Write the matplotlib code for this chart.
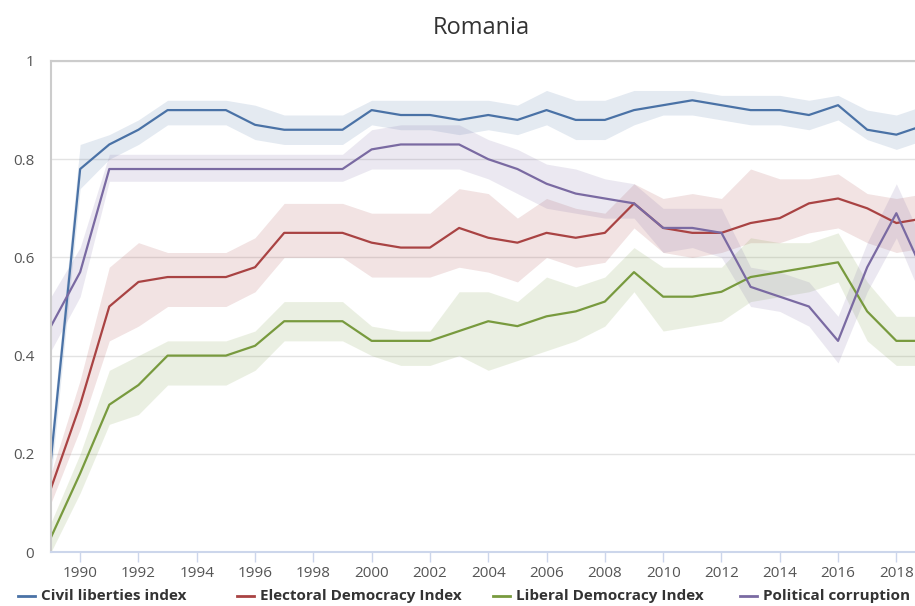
import numpy as np
import matplotlib.pyplot as plt
from matplotlib.lines import Line2D

years = list(range(1989, 2020))

# Civil liberties index
civil = [0.19, 0.78, 0.83, 0.86, 0.90, 0.90, 0.90, 0.87, 0.86, 0.86, 0.86,
         0.90, 0.89, 0.89, 0.88, 0.89, 0.88, 0.90, 0.88, 0.88, 0.90, 0.91,
         0.92, 0.91, 0.90, 0.90, 0.89, 0.91, 0.86, 0.85, 0.87]
civil_hi = [0.23, 0.83, 0.85, 0.88, 0.92, 0.92, 0.92, 0.91, 0.89, 0.89, 0.89,
            0.92, 0.92, 0.92, 0.92, 0.92, 0.91, 0.94, 0.92, 0.92, 0.94, 0.94,
            0.94, 0.93, 0.93, 0.93, 0.92, 0.93, 0.90, 0.89, 0.91]
civil_lo = [0.15, 0.74, 0.80, 0.83, 0.87, 0.87, 0.87, 0.84, 0.83, 0.83, 0.83,
            0.87, 0.86, 0.86, 0.85, 0.86, 0.85, 0.87, 0.84, 0.84, 0.87, 0.89,
            0.89, 0.88, 0.87, 0.87, 0.86, 0.88, 0.84, 0.82, 0.84]

# Electoral Democracy Index
electoral = [0.13, 0.30, 0.50, 0.55, 0.56, 0.56, 0.56, 0.58, 0.65, 0.65, 0.65,
             0.63, 0.62, 0.62, 0.66, 0.64, 0.63, 0.65, 0.64, 0.65, 0.71, 0.66,
             0.65, 0.65, 0.67, 0.68, 0.71, 0.72, 0.70, 0.67, 0.68]
electoral_hi = [0.16, 0.35, 0.58, 0.63, 0.61, 0.61, 0.61, 0.64, 0.71, 0.71, 0.71,
                0.69, 0.69, 0.69, 0.74, 0.73, 0.68, 0.72, 0.70, 0.69, 0.75, 0.72,
                0.73, 0.72, 0.78, 0.76, 0.76, 0.77, 0.73, 0.72, 0.73]
electoral_lo = [0.10, 0.25, 0.43, 0.46, 0.50, 0.50, 0.50, 0.53, 0.60, 0.60, 0.60,
                0.56, 0.56, 0.56, 0.58, 0.57, 0.55, 0.60, 0.58, 0.59, 0.66, 0.61,
                0.60, 0.61, 0.63, 0.63, 0.65, 0.66, 0.63, 0.61, 0.62]

# Liberal Democracy Index
liberal = [0.03, 0.16, 0.30, 0.34, 0.40, 0.40, 0.40, 0.42, 0.47, 0.47, 0.47,
           0.43, 0.43, 0.43, 0.45, 0.47, 0.46, 0.48, 0.49, 0.51, 0.57, 0.52,
           0.52, 0.53, 0.56, 0.57, 0.58, 0.59, 0.49, 0.43, 0.43]
liberal_hi = [0.06, 0.20, 0.37, 0.40, 0.43, 0.43, 0.43, 0.45, 0.51, 0.51, 0.51,
              0.46, 0.45, 0.45, 0.53, 0.53, 0.51, 0.56, 0.54, 0.56, 0.62, 0.58,
              0.58, 0.58, 0.64, 0.63, 0.63, 0.65, 0.55, 0.48, 0.48]
liberal_lo = [0.00, 0.12, 0.26, 0.28, 0.34, 0.34, 0.34, 0.37, 0.43, 0.43, 0.43,
              0.40, 0.38, 0.38, 0.40, 0.37, 0.39, 0.41, 0.43, 0.46, 0.53, 0.45,
              0.46, 0.47, 0.51, 0.52, 0.53, 0.55, 0.43, 0.38, 0.38]

# Political corruption
corruption = [0.46, 0.57, 0.78, 0.78, 0.78, 0.78, 0.78, 0.78, 0.78, 0.78, 0.78,
              0.82, 0.83, 0.83, 0.83, 0.80, 0.78, 0.75, 0.73, 0.72, 0.71, 0.66,
              0.66, 0.65, 0.54, 0.52, 0.50, 0.43, 0.58, 0.69, 0.56]
corruption_hi = [0.52, 0.62, 0.81, 0.81, 0.81, 0.81, 0.81, 0.81, 0.81, 0.81, 0.81,
                 0.86, 0.87, 0.87, 0.87, 0.84, 0.82, 0.79, 0.78, 0.76, 0.75, 0.70,
                 0.70, 0.70, 0.58, 0.57, 0.55, 0.48, 0.63, 0.75, 0.62]
corruption_lo = [0.41, 0.52, 0.755, 0.755, 0.755, 0.755, 0.755, 0.755, 0.755, 0.755, 0.755,
                 0.78, 0.78, 0.78, 0.78, 0.76, 0.73, 0.70, 0.69, 0.68, 0.68, 0.61,
                 0.62, 0.60, 0.50, 0.49, 0.46, 0.385, 0.53, 0.64, 0.50]

labels = ["Civil liberties index", "Electoral Democracy Index",
          "Liberal Democracy Index", "Political corruption"]
colors = ["#4a72a6", "#a94343", "#789a3e", "#7a6aa2"]

series = [(civil, civil_lo, civil_hi),
          (electoral, electoral_lo, electoral_hi),
          (liberal, liberal_lo, liberal_hi),
          (corruption, corruption_lo, corruption_hi)]

plt.rcParams['font.family'] = ['Open Sans', 'DejaVu Sans']

fig = plt.figure(figsize=(9.15, 6.06), dpi=100)
W, H = 915, 606
ax = fig.add_axes([51 / W, 54 / H, (W - 51) / W, 491 / H])

for (vals, lo, hi), c in zip(series, colors):
    ax.fill_between(years, lo, hi, color=c, alpha=0.15, linewidth=0)
for (vals, lo, hi), c in zip(series, colors):
    ax.plot(years, vals, color=c, linewidth=1.6)

ax.set_xlim(1989, 2018.64)
ax.set_ylim(0, 1)
ax.set_xticks(range(1990, 2019, 2))
ax.set_yticks([0, 0.2, 0.4, 0.6, 0.8, 1])
ax.set_yticklabels(["0", "0.2", "0.4", "0.6", "0.8", "1"])
ax.grid(axis='y', color='#e3e3e3', linewidth=1)
ax.set_axisbelow(True)
ax.spines['right'].set_visible(False)
ax.spines['top'].set_color('#cccccc')
ax.spines['left'].set_color('#cccccc')
ax.spines['bottom'].set_color('#ccd6eb')
for s in ['top', 'left', 'bottom']:
    ax.spines[s].set_linewidth(1.5)
ax.tick_params(axis='x', colors='#ccd6eb', length=7, width=1, labelcolor='#555555',
               labelsize=11, pad=3)
ax.tick_params(axis='y', length=0, labelcolor='#555555', labelsize=11, pad=12)

fig.text(481 / W, 1 - 28 / H, "Romania", ha='center', va='center',
         fontsize=17, color='#333333')

# legend, laid out as in the original
leg_x = [18, 237, 493, 740]
leg_y = 1 - 596 / H
for x, lab, c in zip(leg_x, labels, colors):
    fig.add_artist(Line2D([x / W, (x + 17) / W], [leg_y, leg_y], color=c,
                          linewidth=2, transform=fig.transFigure))
    fig.text((x + 23) / W, leg_y, lab, ha='left', va='center', fontsize=11,
             fontweight='bold', color='#333333')

fig.savefig("out.png", dpi=100)
